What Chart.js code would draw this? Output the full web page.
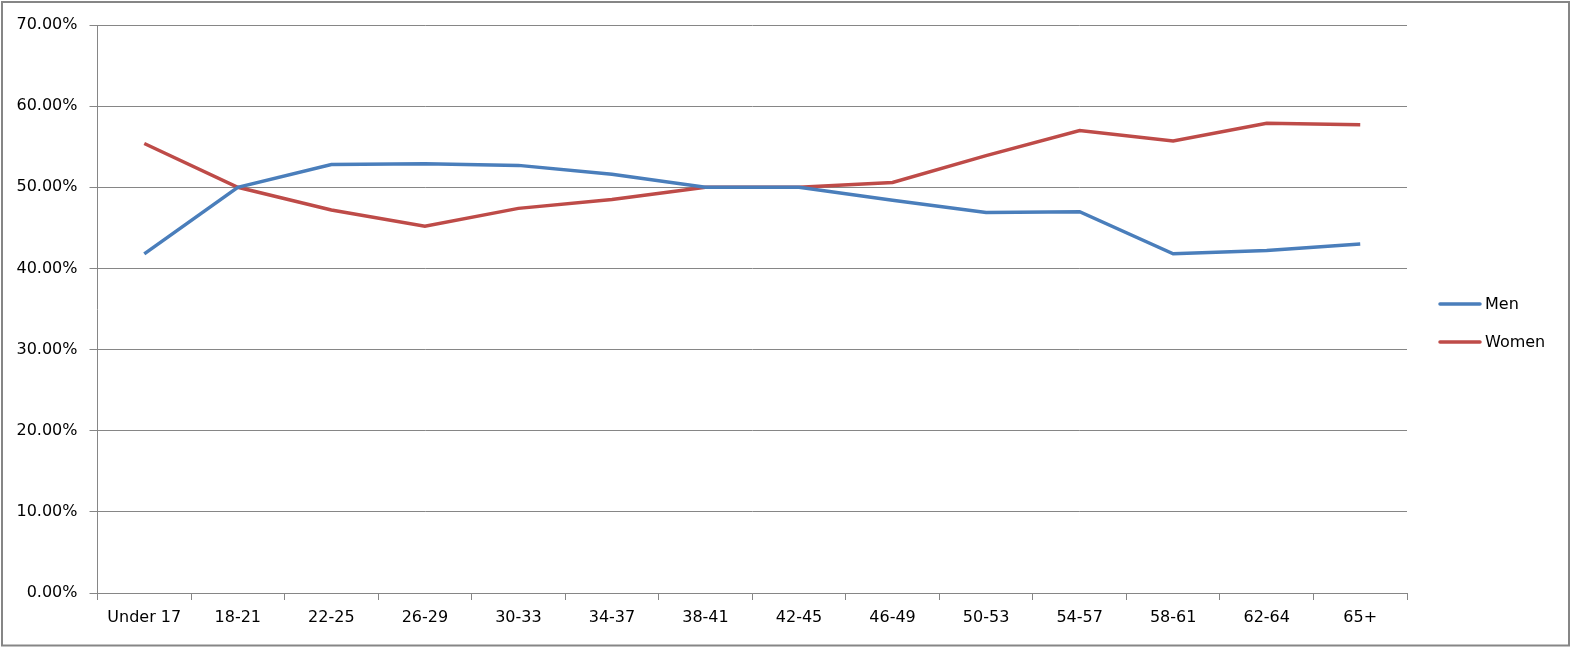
<!DOCTYPE html>
<html>
<head>
<meta charset="utf-8">
<script src="https://cdn.jsdelivr.net/npm/chart.js@4"></script>
<style>
  html, body { margin: 0; padding: 0; background: #fff; }
  #wrap { width: 1574px; height: 648px; position: relative; }
</style>
</head>
<body>
<div id="wrap"><canvas id="ageChart" width="1574" height="648"></canvas></div>
<script>
const ageGroups = ["Under 17", "18-21", "22-25", "26-29", "30-33", "34-37", "38-41",
                   "42-45", "46-49", "50-53", "54-57", "58-61", "62-64", "65+"];
const menValues = [41.8, 50.0, 52.8, 52.9, 52.7, 51.6, 50.0, 50.0, 48.4, 46.9, 47.0, 41.8, 42.2, 43.0];
const womenValues = [55.4, 50.0, 47.2, 45.2, 47.4, 48.5, 50.0, 50.0, 50.6, 53.9, 57.0, 55.7, 57.9, 57.7];
const yTicks = [0, 10, 20, 30, 40, 50, 60, 70];

const axisGray = "#868686";
const font = { family: "DejaVu Sans", size: 16 };

// contour et légende façon Excel
const excelFrame = {
    id: "excelFrame",
    afterDraw(chart) {
        const ctx = chart.ctx;
        ctx.save();
        ctx.strokeStyle = axisGray;
        ctx.lineWidth = 2;
        ctx.strokeRect(2, 2, 1567, 643.5);

        const rows = [304, 342];
        chart.data.datasets.forEach((ds, i) => {
            const y = rows[i];
            ctx.strokeStyle = ds.borderColor;
            ctx.lineWidth = 3.5;
            ctx.lineCap = "round";
            ctx.beginPath();
            ctx.moveTo(1440, y);
            ctx.lineTo(1480, y);
            ctx.stroke();
            ctx.fillStyle = "#000";
            ctx.font = "16px 'DejaVu Sans'";
            ctx.textBaseline = "middle";
            ctx.fillText(ds.label, 1485, y + 1);
        });
        ctx.restore();
    }
};

new Chart(document.getElementById("ageChart").getContext("2d"), {
    type: "line",
    data: {
        labels: ageGroups,
        datasets: [
            { label: "Men", data: menValues, borderColor: "#4A7EBB", backgroundColor: "#4A7EBB",
              borderWidth: 3.5, pointRadius: 0, tension: 0 },
            { label: "Women", data: womenValues, borderColor: "#BE4B48", backgroundColor: "#BE4B48",
              borderWidth: 3.5, pointRadius: 0, tension: 0 }
        ]
    },
    options: {
        responsive: false,
        animation: false,
        layout: { padding: { top: 25, right: 167, bottom: 0, left: 0 } },
        plugins: {
            legend: { display: false },
            tooltip: { enabled: false }
        },
        scales: {
            x: {
                offset: true,
                grid: { offset: true, drawOnChartArea: false, tickLength: 7, color: axisGray },
                border: { color: axisGray },
                ticks: { color: "#000", font: font, padding: 8, maxRotation: 0, autoSkip: false },
                afterFit: s => { s.height = 55; }
            },
            y: {
                min: 0,
                max: 70,
                afterBuildTicks: s => { s.ticks = yTicks.map(v => ({ value: v })); },
                grid: { color: axisGray, tickLength: 8 },
                border: { color: axisGray },
                ticks: { color: "#000", font: font, padding: 12, callback: v => v.toFixed(2) + "%" },
                afterFit: s => { s.width = 97.5; }
            }
        }
    },
    plugins: [excelFrame]
});
</script>
</body>
</html>
